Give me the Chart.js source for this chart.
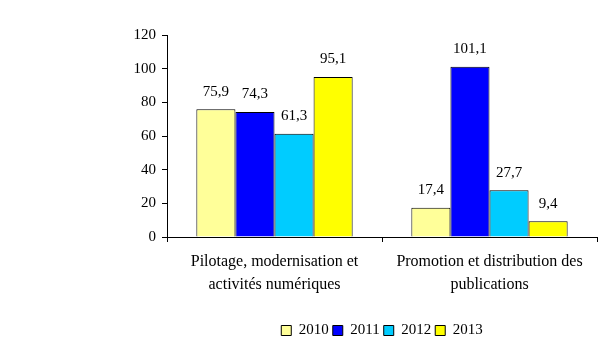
<!DOCTYPE html>
<html>
<head>
<meta charset="utf-8">
<script src="https://cdn.jsdelivr.net/npm/chart.js@4.4.1/dist/chart.umd.min.js"></script>
<style>
  html, body { margin: 0; padding: 0; background: #fff; }
  #wrap { width: 616px; height: 352px; }
</style>
</head>
<body>
<div id="wrap"><canvas id="Chart1" width="616" height="352"></canvas></div>
<script>
const categories = [
  ["Pilotage, modernisation et", "activités numériques"],
  ["Promotion et distribution des", "publications"]
];
const years = ["2010", "2011", "2012", "2013"];
const values2010 = [75.9, 17.4];
const values2011 = [74.3, 101.1];
const values2012 = [61.3, 27.7];
const values2013 = [95.1, 9.4];
const yTicks = [0, 20, 40, 60, 80, 100, 120];

const colors = ["#FFFF99", "#0000FF", "#00CCFF", "#FFFF00"];
const FONT = "'Liberation Serif', 'Times New Roman', serif";

// draw value labels above bars, french decimal comma
const valueLabels = {
  id: "valueLabels",
  afterDatasetsDraw(chart) {
    const ctx = chart.ctx;
    ctx.save();
    ctx.font = "15px " + FONT;
    ctx.fillStyle = "#000";
    ctx.textAlign = "center";
    ctx.textBaseline = "bottom";
    chart.data.datasets.forEach((ds, i) => {
      const meta = chart.getDatasetMeta(i);
      meta.data.forEach((bar, j) => {
        const txt = ds.data[j].toFixed(1).replace(".", ",");
        ctx.fillText(txt, bar.x, bar.y - 10);
      });
    });
    ctx.restore();
  }
};

// center the legend under the plot area instead of the whole canvas
const legendUnderPlot = {
  id: "legendUnderPlot",
  afterLayout(chart) {
    const lg = chart.legend;
    if (!lg) return;
    lg.left = chart.chartArea.left;
    lg.right = chart.chartArea.right;
    lg.width = lg.right - lg.left;
  }
};

const allValues = [values2010, values2011, values2012, values2013];

new Chart(document.getElementById("Chart1").getContext("2d"), {
  type: "bar",
  data: {
    labels: categories,
    datasets: years.map((y, i) => ({
      label: y,
      data: allValues[i],
      backgroundColor: colors[i],
      borderColor: "#000",
      borderWidth: 1,
      barPercentage: 1,
      categoryPercentage: 0.727
    }))
  },
  options: {
    responsive: false,
    animation: false,
    layout: {
      padding: { left: 0, right: 19, top: 35, bottom: 4 }
    },
    plugins: {
      legend: {
        display: true,
        position: "bottom",
        labels: {
          boxWidth: 10,
          boxHeight: 10,
          padding: 4,
          color: "#000",
          font: { family: FONT, size: 15 }
        }
      },
      tooltip: { enabled: false }
    },
    scales: {
      x: {
        afterFit: s => { s.height = 82; },
        grid: {
          offset: true,
          drawOnChartArea: false,
          tickLength: 5,
          color: "#000"
        },
        border: { color: "#000", width: 1 },
        ticks: {
          color: "#000",
          padding: 9,
          maxRotation: 0,
          font: { family: FONT, size: 16, lineHeight: 1.4 }
        }
      },
      y: {
        min: 0,
        max: 120,
        afterFit: s => { s.width = 167; },
        afterBuildTicks: s => { s.ticks = yTicks.map(v => ({ value: v })); },
        grid: {
          drawOnChartArea: false,
          tickLength: 5,
          color: "#000"
        },
        border: { color: "#000", width: 1 },
        ticks: {
          color: "#000",
          padding: 6,
          font: { family: FONT, size: 15 }
        }
      }
    }
  },
  plugins: [valueLabels, legendUnderPlot]
});
</script>
</body>
</html>
